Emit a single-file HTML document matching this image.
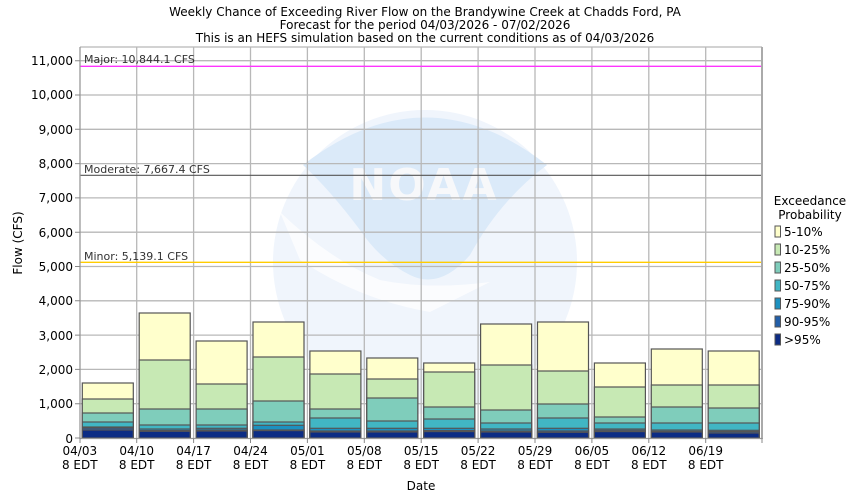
<!DOCTYPE html>
<html><head><meta charset="utf-8"><style>
html,body{margin:0;padding:0;background:#fff;}
svg{display:block;font-family:"DejaVu Sans","Liberation Sans",sans-serif;}
.a{fill:#ffffcc}.b{fill:#c7e9b4}.c{fill:#7fcdbb}.d{fill:#41b6c4}.e{fill:#1d91c0}.f{fill:#225ea8}.g{fill:#0c2c84}
</style></head><body>
<svg width="850" height="500" viewBox="0 0 850 500" xmlns="http://www.w3.org/2000/svg">
<rect width="850" height="500" fill="#fff"/>
<circle cx="425" cy="262" r="152" fill="#f0f5fc"/>
<path d="M303,165 Q425,70 547,165 Q500,200 470,255 Q440,290 410,275 Q380,260 360,230 Q330,190 303,165 Z" fill="#dbeaf9"/>
<path d="M280,212 Q330,260 380,280 Q430,290 490,282 L430,312 Q360,300 300,260 Z" fill="#fff" opacity="0.7"/>
<text x="424" y="200" font-size="44" font-weight="bold" fill="#f7f8fa" text-anchor="middle" letter-spacing="2">NOAA</text>
<g fill="none" stroke="#b8b8b8" stroke-width="1.3">
<path d="M80,60.7H762M80,95H762M80,129.3H762M80,163.6H762M80,197.9H762M80,232.2H762M80,266.5H762M80,300.8H762M80,335.1H762M80,369.4H762M80,403.7H762"/>
<path d="M136.7,47V438M193.6,47V438M250.5,47V438M307.4,47V438M364.3,47V438M421.2,47V438M478.1,47V438M535,47V438M591.9,47V438M648.8,47V438M705.7,47V438"/>
</g>
<line x1="80" y1="66.3" x2="762" y2="66.3" stroke="#ff33ff" stroke-width="1.3"/>
<line x1="80" y1="175.3" x2="762" y2="175.3" stroke="#555" stroke-width="1.2"/>
<line x1="80" y1="262.3" x2="762" y2="262.3" stroke="#ffcc00" stroke-width="1.3"/>
<g font-size="11" fill="#333">
<text x="84" y="63">Major: 10,844.1 CFS</text>
<text x="84" y="173">Moderate: 7,667.4 CFS</text>
<text x="84" y="260">Minor: 5,139.1 CFS</text>
</g>
<g stroke="#555" stroke-width="1.2">
<rect x="82.3" y="383" width="51" height="55" class="a"/><rect x="82.3" y="399" width="51" height="39" class="b"/><rect x="82.3" y="413" width="51" height="25" class="c"/><rect x="82.3" y="422" width="51" height="16" class="d"/><rect x="82.3" y="427" width="51" height="11" class="e"/><rect x="82.3" y="428" width="51" height="10" class="f"/><rect x="82.3" y="430" width="51" height="8" class="g"/>
<rect x="139.2" y="313" width="51" height="125" class="a"/><rect x="139.2" y="360" width="51" height="78" class="b"/><rect x="139.2" y="409" width="51" height="29" class="c"/><rect x="139.2" y="425" width="51" height="13" class="d"/><rect x="139.2" y="429" width="51" height="9" class="e"/><rect x="139.2" y="430.6" width="51" height="7.4" class="f"/><rect x="139.2" y="431.3" width="51" height="6.7" class="g"/>
<rect x="196.1" y="341" width="51" height="97" class="a"/><rect x="196.1" y="384" width="51" height="54" class="b"/><rect x="196.1" y="409" width="51" height="29" class="c"/><rect x="196.1" y="425" width="51" height="13" class="d"/><rect x="196.1" y="428.3" width="51" height="9.7" class="e"/><rect x="196.1" y="430" width="51" height="8" class="f"/><rect x="196.1" y="431" width="51" height="7" class="g"/>
<rect x="253" y="322" width="51" height="116" class="a"/><rect x="253" y="357" width="51" height="81" class="b"/><rect x="253" y="401" width="51" height="37" class="c"/><rect x="253" y="422" width="51" height="16" class="d"/><rect x="253" y="425.3" width="51" height="12.7" class="e"/><rect x="253" y="430" width="51" height="8" class="f"/><rect x="253" y="430.6" width="51" height="7.4" class="g"/>
<rect x="309.9" y="351" width="51" height="87" class="a"/><rect x="309.9" y="374" width="51" height="64" class="b"/><rect x="309.9" y="409" width="51" height="29" class="c"/><rect x="309.9" y="418" width="51" height="20" class="d"/><rect x="309.9" y="428.3" width="51" height="9.7" class="e"/><rect x="309.9" y="431" width="51" height="7" class="f"/><rect x="309.9" y="432" width="51" height="6" class="g"/>
<rect x="366.8" y="358" width="51" height="80" class="a"/><rect x="366.8" y="379" width="51" height="59" class="b"/><rect x="366.8" y="398" width="51" height="40" class="c"/><rect x="366.8" y="421" width="51" height="17" class="d"/><rect x="366.8" y="428.3" width="51" height="9.7" class="e"/><rect x="366.8" y="431" width="51" height="7" class="f"/><rect x="366.8" y="432" width="51" height="6" class="g"/>
<rect x="423.7" y="363" width="51" height="75" class="a"/><rect x="423.7" y="372" width="51" height="66" class="b"/><rect x="423.7" y="407" width="51" height="31" class="c"/><rect x="423.7" y="419" width="51" height="19" class="d"/><rect x="423.7" y="428.3" width="51" height="9.7" class="e"/><rect x="423.7" y="430.6" width="51" height="7.4" class="f"/><rect x="423.7" y="431.6" width="51" height="6.4" class="g"/>
<rect x="480.6" y="324" width="51" height="114" class="a"/><rect x="480.6" y="365" width="51" height="73" class="b"/><rect x="480.6" y="410" width="51" height="28" class="c"/><rect x="480.6" y="423" width="51" height="15" class="d"/><rect x="480.6" y="429" width="51" height="9" class="e"/><rect x="480.6" y="431" width="51" height="7" class="f"/><rect x="480.6" y="432" width="51" height="6" class="g"/>
<rect x="537.5" y="322" width="51" height="116" class="a"/><rect x="537.5" y="371" width="51" height="67" class="b"/><rect x="537.5" y="404" width="51" height="34" class="c"/><rect x="537.5" y="418" width="51" height="20" class="d"/><rect x="537.5" y="428.3" width="51" height="9.7" class="e"/><rect x="537.5" y="431" width="51" height="7" class="f"/><rect x="537.5" y="432.3" width="51" height="5.7" class="g"/>
<rect x="594.4" y="363" width="51" height="75" class="a"/><rect x="594.4" y="387" width="51" height="51" class="b"/><rect x="594.4" y="417" width="51" height="21" class="c"/><rect x="594.4" y="423" width="51" height="15" class="d"/><rect x="594.4" y="429" width="51" height="9" class="e"/><rect x="594.4" y="430.3" width="51" height="7.7" class="f"/><rect x="594.4" y="431.6" width="51" height="6.4" class="g"/>
<rect x="651.3" y="349" width="51" height="89" class="a"/><rect x="651.3" y="385" width="51" height="53" class="b"/><rect x="651.3" y="407" width="51" height="31" class="c"/><rect x="651.3" y="423" width="51" height="15" class="d"/><rect x="651.3" y="430" width="51" height="8" class="e"/><rect x="651.3" y="431.3" width="51" height="6.7" class="f"/><rect x="651.3" y="432" width="51" height="6" class="g"/>
<rect x="708.2" y="351" width="51" height="87" class="a"/><rect x="708.2" y="385" width="51" height="53" class="b"/><rect x="708.2" y="408" width="51" height="30" class="c"/><rect x="708.2" y="423" width="51" height="15" class="d"/><rect x="708.2" y="430.3" width="51" height="7.7" class="e"/><rect x="708.2" y="431.6" width="51" height="6.4" class="f"/><rect x="708.2" y="433" width="51" height="5" class="g"/>
</g>
<line x1="80" y1="47" x2="762" y2="47" stroke="#b8b8b8" stroke-width="1.3"/>
<line x1="80" y1="47" x2="80" y2="439" stroke="#999" stroke-width="1.3"/>
<line x1="762" y1="47" x2="762" y2="439" stroke="#aaa" stroke-width="2"/>
<line x1="80" y1="438.5" x2="762" y2="438.5" stroke="#999" stroke-width="1.3"/>
<g font-size="12" fill="#000" text-anchor="end">
<text x="73" y="65">11,000</text><text x="73" y="99">10,000</text><text x="73" y="134">9,000</text><text x="73" y="168">8,000</text><text x="73" y="202">7,000</text><text x="73" y="237">6,000</text><text x="73" y="271">5,000</text><text x="73" y="305">4,000</text><text x="73" y="340">3,000</text><text x="73" y="374">2,000</text><text x="73" y="408">1,000</text><text x="73" y="443">0</text>
</g>
<g stroke="#888"><path d="M75,60.7h5M75,95h5M75,129.3h5M75,163.6h5M75,197.9h5M75,232.2h5M75,266.5h5M75,300.8h5M75,335.1h5M75,369.4h5M75,403.7h5M75,438h5"/>
<path d="M80,438v5M136.7,438v5M193.6,438v5M250.5,438v5M307.4,438v5M364.3,438v5M421.2,438v5M478.1,438v5M535,438v5M591.9,438v5M648.8,438v5M705.7,438v5M762,438v5"/></g>
<g font-size="12" fill="#000" text-anchor="middle">
<text x="79.8" y="455">04/03</text><text x="79.8" y="469">8 EDT</text>
<text x="136.7" y="455">04/10</text><text x="136.7" y="469">8 EDT</text>
<text x="193.6" y="455">04/17</text><text x="193.6" y="469">8 EDT</text>
<text x="250.5" y="455">04/24</text><text x="250.5" y="469">8 EDT</text>
<text x="307.4" y="455">05/01</text><text x="307.4" y="469">8 EDT</text>
<text x="364.3" y="455">05/08</text><text x="364.3" y="469">8 EDT</text>
<text x="421.2" y="455">05/15</text><text x="421.2" y="469">8 EDT</text>
<text x="478.1" y="455">05/22</text><text x="478.1" y="469">8 EDT</text>
<text x="535" y="455">05/29</text><text x="535" y="469">8 EDT</text>
<text x="591.9" y="455">06/05</text><text x="591.9" y="469">8 EDT</text>
<text x="648.8" y="455">06/12</text><text x="648.8" y="469">8 EDT</text>
<text x="705.7" y="455">06/19</text><text x="705.7" y="469">8 EDT</text>
<text x="425" y="16">Weekly Chance of Exceeding River Flow on the Brandywine Creek at Chadds Ford, PA</text>
<text x="425" y="29">Forecast for the period 04/03/2026 - 07/02/2026</text>
<text x="425" y="42">This is an HEFS simulation based on the current conditions as of 04/03/2026</text>
<text x="421" y="490">Date</text>
<text x="810" y="205">Exceedance</text>
<text x="810" y="219">Probability</text>
</g>
<text transform="translate(22,243) rotate(-90)" font-size="12" text-anchor="middle">Flow (CFS)</text>
<g font-size="12" stroke-width="1">
<rect x="775" y="226" width="5.5" height="11" class="a" stroke="#555"/><text x="784" y="236">5-10%</text>
<rect x="775" y="244" width="5.5" height="11" class="b" stroke="#555"/><text x="784" y="254">10-25%</text>
<rect x="775" y="262" width="5.5" height="11" class="c" stroke="#555"/><text x="784" y="272">25-50%</text>
<rect x="775" y="280" width="5.5" height="11" class="d" stroke="#555"/><text x="784" y="290">50-75%</text>
<rect x="775" y="298" width="5.5" height="11" class="e" stroke="#555"/><text x="784" y="308">75-90%</text>
<rect x="775" y="316" width="5.5" height="11" class="f" stroke="#555"/><text x="784" y="326">90-95%</text>
<rect x="775" y="334" width="5.5" height="11" class="g" stroke="#555"/><text x="784" y="344">&gt;95%</text>
</g>
</svg>
</body></html>
